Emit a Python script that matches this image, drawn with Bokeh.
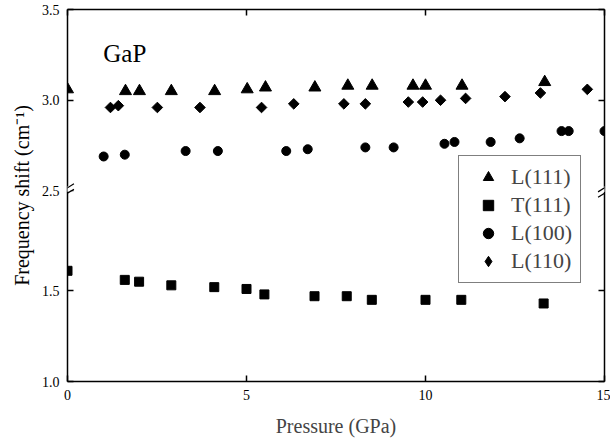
import numpy as np
from bokeh.plotting import figure
from bokeh.models import (Range1d, LinearAxis, FixedTicker, CustomJSTickFormatter,
                          Legend, LegendItem, Label, Arrow, PolyAnnotation, Title)
from bokeh.embed import file_html
from bokeh.resources import INLINE

# ---------------- data ----------------
p_L111 = [0.0, 1.62, 2.01, 2.90, 4.11, 5.02, 5.53, 6.91, 7.83, 8.51, 9.65, 10.0, 11.02, 13.33]
f_L111 = [3.06, 3.05, 3.05, 3.05, 3.05, 3.06, 3.07, 3.07, 3.08, 3.08, 3.08, 3.08, 3.08, 3.10]

p_T111 = [0.0, 1.60, 2.00, 2.90, 4.10, 5.00, 5.50, 6.90, 7.80, 8.50, 10.0, 11.0, 13.3]
f_T111 = [1.61, 1.56, 1.55, 1.53, 1.52, 1.51, 1.48, 1.47, 1.47, 1.45, 1.45, 1.45, 1.43]

p_L100 = [1.01, 1.60, 3.30, 4.20, 6.11, 6.71, 8.32, 9.11, 10.53, 10.81, 11.82, 12.63, 13.80, 14.0, 15.0]
f_L100 = [2.69, 2.70, 2.72, 2.72, 2.72, 2.73, 2.74, 2.74, 2.76, 2.77, 2.77, 2.79, 2.83, 2.83, 2.83]

p_L110 = [1.20, 1.42, 2.51, 3.70, 5.42, 6.32, 7.72, 8.32, 9.52, 9.92, 10.42, 11.12, 12.22, 13.21, 14.52]
f_L110 = [2.96, 2.97, 2.96, 2.96, 2.96, 2.98, 2.98, 2.98, 2.99, 2.99, 3.00, 3.01, 3.02, 3.04, 3.06]

X_RANGE = (0, 15)
X_TICKS = [0, 5, 10, 15]
LOWER = (1.0, 2.05)          # lower axis segment
UPPER = (2.5, 3.5)           # upper axis segment
Y_TICKS_LOWER = [1.0, 1.5]
Y_TICKS_UPPER = [2.5, 3.0, 3.5]
TITLE = "GaP"
XLABEL = "Pressure (GPa)"
YLABEL = "Frequency shift (cm\u207b\u00b9)"

FONT = "Liberation Serif"

# ---------------- broken-axis setup ----------------
total = (LOWER[1] - LOWER[0]) + (UPPER[1] - UPPER[0])
offset = UPPER[0] - LOWER[1]

p = figure(width=610, height=445, output_backend="svg", toolbar_location=None,
           x_range=Range1d(*X_RANGE), y_range=Range1d(LOWER[0], LOWER[0] + total),
           x_axis_type=None, y_axis_type=None,
           min_border_left=67, min_border_right=6, min_border_top=9, min_border_bottom=64)
p.extra_y_ranges = {"upper": Range1d(UPPER[1] - total, UPPER[1])}
p.outline_line_color = None
p.grid.visible = False
p.background_fill_color = "white"
p.border_fill_color = "white"

y_ticks = Y_TICKS_LOWER + [t - offset for t in Y_TICKS_UPPER]
fmt = CustomJSTickFormatter(args=dict(brk=LOWER[1], off=offset),
                            code="return (tick > brk - 1e-6 ? tick + off : tick).toFixed(1);")
blank = CustomJSTickFormatter(code="return '';")

def style(ax, labels=True):
    ax.major_tick_in = 6
    ax.major_tick_out = 0
    ax.minor_tick_line_color = None
    ax.axis_line_width = 1.5
    ax.major_tick_line_width = 1.5
    ax.axis_line_color = "black"
    ax.major_tick_line_color = "black"
    ax.major_label_text_font = FONT
    ax.major_label_text_font_size = "14px"
    ax.major_label_text_color = "black"
    if not labels:
        ax.formatter = blank
        ax.major_label_standoff = 0

bottom = LinearAxis(ticker=FixedTicker(ticks=X_TICKS))
style(bottom)
bottom.major_label_standoff = 8
bottom.axis_label = XLABEL
bottom.axis_label_text_font = FONT
bottom.axis_label_text_font_style = "normal"
bottom.axis_label_text_font_size = "20px"
bottom.axis_label_standoff = 12
p.add_layout(bottom, "below")

top = LinearAxis(ticker=FixedTicker(ticks=X_TICKS))
style(top, labels=False)
p.add_layout(top, "above")

left = LinearAxis(ticker=FixedTicker(ticks=y_ticks), formatter=fmt)
style(left)
left.major_label_standoff = 8
p.add_layout(left, "left")

right = LinearAxis(ticker=FixedTicker(ticks=y_ticks))
style(right, labels=False)
p.add_layout(right, "right")

p.add_layout(Title(text=YLABEL, align="center", offset=-19, standoff=12,
                   text_font=FONT, text_font_size="20px", text_font_style="normal",
                   text_color="black"), "left")

# ---------------- data marks ----------------
r_L111 = p.scatter(p_L111, f_L111, y_range_name="upper", marker="triangle", size=12,
                   color="black")
r_T111 = p.scatter(p_T111, f_T111, marker="square", size=9, color="black")
r_L100 = p.scatter(p_L100, f_L100, y_range_name="upper", marker="circle", size=9,
                   color="black")
r_L110 = p.scatter(p_L110, f_L110, y_range_name="upper", marker="square", size=7.5,
                   angle=np.pi / 4, color="black")
# legend key for the rotated-square series (legends ignore marker angle);
# size 0 so nothing extra is drawn in the plot area
r_L110_key = p.scatter(p_L110, f_L110, y_range_name="upper", marker="diamond", size=0,
                       color="black")

legend = Legend(items=[LegendItem(label="L(111)", renderers=[r_L111]),
                       LegendItem(label="T(111)", renderers=[r_T111]),
                       LegendItem(label="L(100)", renderers=[r_L100]),
                       LegendItem(label="L(110)", renderers=[r_L110_key])],
                location=(391, 98), orientation="vertical",
                label_text_font=FONT, label_text_font_size="22px",
                glyph_width=42, glyph_height=26, label_standoff=2,
                padding=8, spacing=2, margin=0,
                border_line_color="black", border_line_width=1.2,
                background_fill_color="white", background_fill_alpha=1.0)
p.add_layout(legend)

p.add_layout(Label(x=1.0, y=3.257, y_range_name="upper", text=TITLE,
                   text_font=FONT, text_font_size="25px", text_color="black",
                   text_baseline="alphabetic", text_align="left"))

# ---------------- axis-break marks ----------------
brk = LOWER[1]
for xe in X_RANGE:
    p.add_layout(PolyAnnotation(xs=[xe - 0.2, xe + 0.2, xe + 0.2, xe - 0.2],
                                ys=[brk - 0.02, brk + 0.01, brk + 0.04, brk + 0.01],
                                fill_color="white", fill_alpha=1.0, line_color=None))
    for d in (-0.015, 0.015):
        p.add_layout(Arrow(end=None, x_start=xe - 0.18, y_start=brk - 0.02 + d,
                           x_end=xe + 0.18, y_end=brk + 0.025 + d,
                           line_color="black", line_width=1.2))

open("out.html", "w").write(file_html(p, INLINE))
